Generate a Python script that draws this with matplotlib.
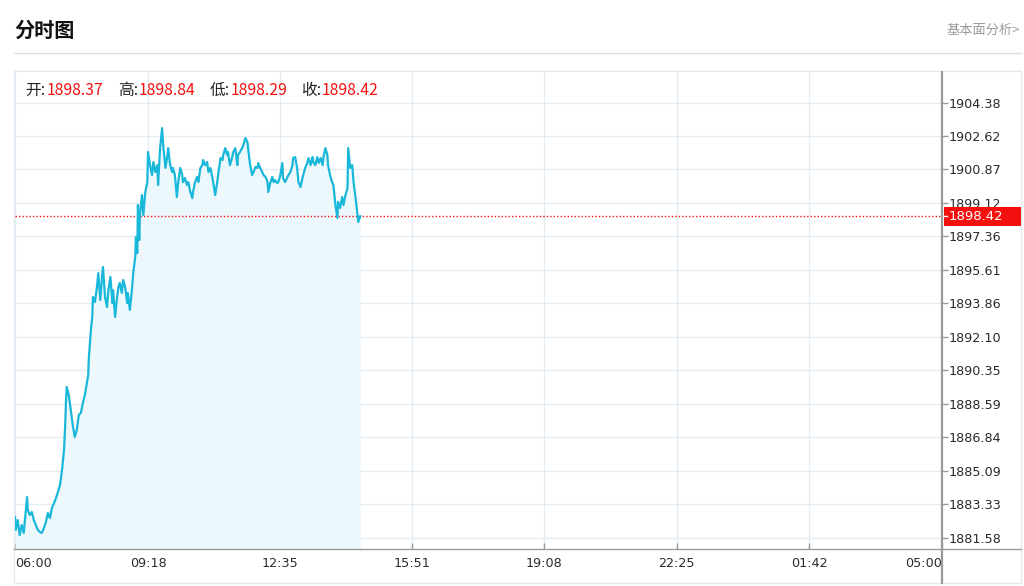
import matplotlib
matplotlib.use("Agg")
import matplotlib.pyplot as plt
from matplotlib.patches import Rectangle
from matplotlib.lines import Line2D
from matplotlib.transforms import blended_transform_factory

plt.rcParams['font.family'] = ['Noto Sans CJK SC', 'DejaVu Sans']

# ---------------- data ----------------
title = "分时图"
link_text = "基本面分析>"
ohlc_labels = ["开:", "高:", "低:", "收:"]
ohlc_values = ["1898.37", "1898.84", "1898.29", "1898.42"]
last_price = 1898.42

x_tick_minutes = [0, 198, 395, 591, 788, 985, 1182, 1380]
x_tick_labels = ["06:00", "09:18", "12:35", "15:51", "19:08", "22:25", "01:42", "05:00"]
y_ticks = [1881.58, 1883.33, 1885.09, 1886.84, 1888.59, 1890.35, 1892.10,
           1893.86, 1895.61, 1897.36, 1899.12, 1900.87, 1902.62, 1904.38]
y_min, y_max = 1880.98, 1905.98

# minutes after 06:00
minutes = [0, 1, 4, 7, 10, 13, 18, 19, 22, 25, 28, 31, 34, 37, 40, 43, 46, 49, 52, 55,
           60, 64, 67, 70, 73, 75, 76, 77, 80, 83, 86, 89, 92, 95, 98, 101, 104, 107, 109, 110,
           113, 115, 116, 119, 122, 124, 127, 130, 131, 134, 137, 139, 142, 145, 146, 149, 152, 154, 156, 159,
           161, 164, 167, 168, 171, 174, 176, 179, 180, 182, 183, 185, 186, 189, 191, 194, 197, 198, 201, 204,
           206, 209, 212, 213, 216, 219, 221, 224, 227, 228, 231, 234, 235, 238, 241, 243, 246, 249, 250, 253,
           256, 258, 261, 264, 265, 268, 271, 273, 276, 279, 280, 283, 286, 288, 291, 294, 295, 298, 301, 303,
           306, 309, 310, 313, 316, 317, 320, 323, 325, 328, 331, 332, 335, 338, 340, 343, 346, 347, 350, 353,
           355, 358, 361, 362, 365, 368, 370, 373, 376, 377, 380, 383, 385, 387, 390, 392, 395, 398, 399, 402,
           405, 407, 410, 413, 414, 417, 420, 422, 425, 428, 429, 432, 435, 437, 440, 443, 444, 447, 450, 452,
           455, 458, 459, 462, 465, 466, 469, 472, 474, 477, 480, 481, 484, 487, 489, 492, 495, 496, 499, 502,
           504, 507, 510, 511, 514]
prices = [1882.66, 1881.98, 1882.50, 1881.71, 1882.24, 1881.82, 1883.70, 1883.02, 1882.76, 1882.92,
          1882.50, 1882.24, 1881.98, 1881.87, 1881.82, 1882.08, 1882.39, 1882.87, 1882.60, 1883.13,
          1883.55, 1883.97, 1884.33, 1885.12, 1886.17, 1887.74, 1888.79, 1889.47, 1889.05, 1888.26,
          1887.48, 1886.85, 1887.22, 1888.00, 1888.11, 1888.63, 1889.05, 1889.68, 1890.10, 1891.04,
          1892.46, 1893.14, 1894.19, 1893.92, 1894.71, 1895.44, 1894.03, 1895.44, 1895.76, 1894.19,
          1893.66, 1894.55, 1895.24, 1893.87, 1894.55, 1893.14, 1894.19, 1894.71, 1894.92, 1894.40,
          1895.08, 1894.71, 1893.87, 1894.40, 1893.51, 1894.55, 1895.44, 1896.28, 1897.33, 1896.49,
          1899.01, 1897.17, 1898.48, 1899.53, 1898.48, 1899.69, 1900.21, 1901.79, 1901.10, 1900.58,
          1901.26, 1900.74, 1901.10, 1900.06, 1901.99, 1903.04, 1901.99, 1900.95, 1901.63, 1901.99,
          1901.10, 1900.74, 1900.95, 1900.58, 1899.43, 1900.21, 1900.95, 1900.58, 1900.21, 1900.42,
          1900.06, 1900.21, 1899.69, 1899.37, 1899.69, 1900.21, 1900.48, 1900.21, 1900.95, 1901.10,
          1901.37, 1901.10, 1901.26, 1900.74, 1900.95, 1900.42, 1900.21, 1899.53, 1900.21, 1900.74,
          1901.47, 1901.37, 1901.63, 1901.99, 1901.63, 1901.79, 1901.10, 1901.47, 1901.79, 1901.99,
          1901.10, 1901.63, 1901.79, 1901.99, 1902.15, 1902.52, 1902.31, 1901.99, 1901.10, 1900.58,
          1900.74, 1901.00, 1900.95, 1901.21, 1900.95, 1900.74, 1900.58, 1900.48, 1900.21, 1899.69,
          1900.16, 1900.48, 1900.21, 1900.32, 1900.16, 1900.21, 1900.58, 1901.21, 1900.42, 1900.21,
          1900.42, 1900.58, 1900.74, 1901.10, 1901.47, 1901.52, 1900.95, 1900.21, 1899.95, 1900.42,
          1900.58, 1900.95, 1901.21, 1901.47, 1901.10, 1901.52, 1901.26, 1901.10, 1901.52, 1901.21,
          1901.47, 1901.10, 1901.47, 1901.99, 1901.63, 1901.10, 1900.58, 1900.21, 1900.06, 1899.01,
          1898.33, 1899.17, 1898.85, 1899.43, 1899.01, 1899.53, 1899.90, 1901.99, 1900.95, 1901.10,
          1900.21, 1899.37, 1898.48, 1898.12, 1898.42]

# ---------------- style ----------------
W, H = 1024, 586
line_color = "#19b7d9"
fill_color = "#edf8fc"
grid_color = "#e3ecf3"
frame_color = "#e4eaef"
axis_color = "#9a9a9a"
red = "#f51010"
text_color = "#2a2a2a"

def fx(px):
    return px / W

def fy(py):
    return 1 - py / H

fig = plt.figure(figsize=(W / 100, H / 100), dpi=100)
fig.patch.set_facecolor("white")

ax_l, ax_r, ax_t, ax_b = 15, 942, 72, 549
ax = fig.add_axes([fx(ax_l), fy(ax_b), fx(ax_r) - fx(ax_l), fy(ax_t) - fy(ax_b)])
ax.set_xlim(x_tick_minutes[0], x_tick_minutes[-1])
ax.set_ylim(y_min, y_max)

# area + line
ax.fill_between(minutes, prices, y_min, color=fill_color, lw=0, zorder=1)
ax.plot(minutes, prices, color=line_color, lw=1.6, zorder=3, solid_joinstyle="round")

# last price dotted line
ax.axhline(last_price, color=red, lw=1.0, ls=(0, (1, 1.5)), zorder=2)

# grid
ax.set_axisbelow(True)
ax.grid(True, color=grid_color, lw=1.0)

# ticks
ax.yaxis.tick_right()
ax.set_yticks(y_ticks)
ax.set_yticklabels([f"{v:.2f}" for v in y_ticks], family="DejaVu Sans", fontsize=9.2, color=text_color)
ax.tick_params(axis="y", direction="out", length=4, width=1, color=axis_color, pad=1)
ax.set_xticks(x_tick_minutes)
ax.set_xticklabels(x_tick_labels, family="DejaVu Sans", fontsize=9.2, color=text_color)
ax.tick_params(axis="x", direction="in", length=4, width=1, color=axis_color, pad=6)
xl = ax.get_xticklabels()
xl[0].set_horizontalalignment("left")
xl[-1].set_horizontalalignment("right")

for s in ax.spines.values():
    s.set_visible(False)

# figure-level frame & axis lines
fig.add_artist(Rectangle((fx(14), fy(583)), fx(1021) - fx(14), fy(71) - fy(583),
                         transform=fig.transFigure, fill=False, ec=frame_color, lw=1.0, zorder=0))
fig.add_artist(Line2D([fx(14), fx(1021)], [fy(549), fy(549)], transform=fig.transFigure,
                      color=axis_color, lw=1.0))
fig.add_artist(Line2D([fx(942), fx(942)], [fy(72), fy(583)], transform=fig.transFigure,
                      color=axis_color, lw=1.6))

# red last price label
bt = blended_transform_factory(ax.transAxes, ax.transData)
ax.add_patch(Rectangle((1.0025, last_price - 0.50), 0.083, 1.0, transform=bt,
                       fc=red, ec="none", clip_on=False, zorder=10))
ax.add_line(Line2D([1.0025, 1.0058], [last_price, last_price], transform=bt, color="white",
                   lw=1.0, clip_on=False, zorder=11))
ax.text(1.0075, last_price, f"{last_price:.2f}", transform=bt, family="DejaVu Sans", fontsize=9.5,
        color="white", va="center", ha="left", zorder=12, clip_on=False)

# header
fig.text(fx(14), fy(30), title, fontsize=14.5, fontweight="heavy", color="#111111", va="center", ha="left")
fig.text(fx(1020), fy(30), link_text, fontsize=9.5, color="#9a9a9a", va="center", ha="right")
fig.add_artist(Line2D([fx(14), fx(1021)], [fy(53), fy(53)], transform=fig.transFigure,
                      color="#dddddd", lw=1.0))

# OHLC info
label_x = [25, 118, 210, 301]
value_x = [47, 139, 231, 322]
for lab, val, lx, vx in zip(ohlc_labels, ohlc_values, label_x, value_x):
    fig.text(fx(lx), fy(90), lab, fontsize=11.3, color="#222222", va="center", ha="left")
    fig.text(fx(vx), fy(90), val, fontsize=11.3, color=red, va="center", ha="left")

fig.savefig("out.png", dpi=100, facecolor="white")
